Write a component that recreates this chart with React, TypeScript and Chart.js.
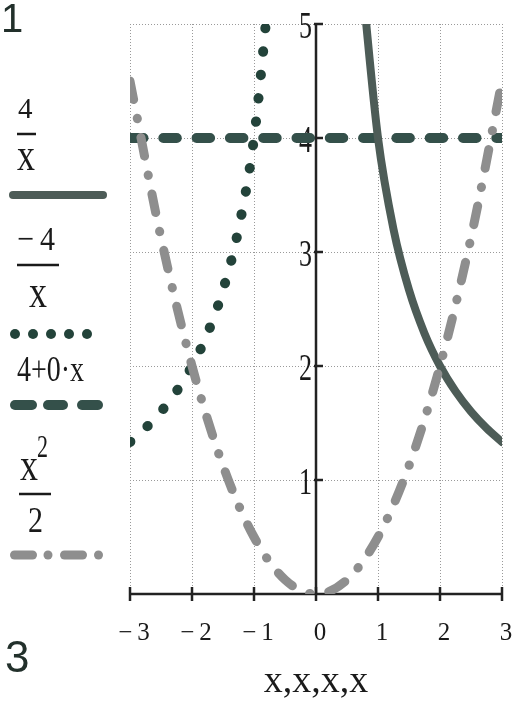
import React, { useEffect, useRef } from "react";
import { Chart, registerables } from "chart.js";

Chart.register(...registerables);

// ---- data ----
const xTicks = [-3, -2, -1, 0, 1, 2, 3];
const yTicks = [1, 2, 3, 4, 5];

// 4/x  (solid)
const posX = [0.75, 1, 1.25, 1.5, 1.75, 2, 2.25, 2.5, 2.75, 3];
const posY = [5.333, 4, 3.2, 2.667, 2.286, 2, 1.778, 1.6, 1.455, 1.333];

// -4/x (dotted)
const negX = [-3, -2.75, -2.5, -2.25, -2, -1.75, -1.5, -1.25, -1, -0.75];
const negY = [1.333, 1.455, 1.6, 1.778, 2, 2.286, 2.667, 3.2, 4, 5.333];

// 4+0·x (dashed)
const constX = [-3, 3];
const constY = [4, 4];

// x^2/2 (dash-dot)
const parX = [-3, -2.5, -2, -1.5, -1, -0.5, 0, 0.5, 1, 1.5, 2, 2.5, 3];
const parY = [4.5, 3.125, 2, 1.125, 0.5, 0.125, 0, 0.125, 0.5, 1.125, 2, 3.125, 4.5];

const xTitle = "x,x,x,x";

const C_SOLID = "#4d5c57";
const C_DOT = "#23433a";
const C_DASH = "#34504a";
const C_DASHDOT = "#8e8e8e";
const C_TEXT = "#1a1a1a";
const SERIF = '"Liberation Serif", "Times New Roman", serif';
const SANS = '"Liberation Sans", Arial, sans-serif';

const pts = (xs: number[], ys: number[]) => xs.map((x, i) => ({ x, y: ys[i] }));

function txt(
  ctx: CanvasRenderingContext2D,
  s: string,
  x: number,
  y: number,
  font: string,
  sy = 1,
  color = C_TEXT,
  align: CanvasTextAlign = "left",
  baseline: CanvasTextBaseline = "alphabetic"
) {
  ctx.save();
  ctx.font = font;
  ctx.fillStyle = color;
  ctx.textAlign = align;
  ctx.textBaseline = baseline;
  ctx.translate(x, y);
  ctx.scale(1, sy);
  ctx.fillText(s, 0, 0);
  ctx.restore();
}

function seg(ctx: CanvasRenderingContext2D, x1: number, y1: number, x2: number, y2: number) {
  ctx.beginPath();
  ctx.moveTo(x1, y1);
  ctx.lineTo(x2, y2);
  ctx.stroke();
}

const axesPlugin = {
  id: "mathcadAxes",
  beforeDatasetsDraw(chart: any) {
    const { ctx, chartArea: a } = chart;
    const xs = chart.scales.x;
    const ys = chart.scales.y;
    ctx.save();
    // dotted grid
    ctx.strokeStyle = "#9a9a9a";
    ctx.lineWidth = 1;
    ctx.setLineDash([1, 2]);
    for (const v of xTicks) {
      const px = Math.round(xs.getPixelForValue(v)) + 0.5;
      seg(ctx, px, a.top, px, a.bottom);
    }
    for (const v of yTicks) {
      const py = Math.round(ys.getPixelForValue(v)) + 0.5;
      seg(ctx, a.left, py, a.right, py);
    }
    ctx.setLineDash([]);
    // axes
    const x0 = xs.getPixelForValue(0);
    const y0 = ys.getPixelForValue(0);
    ctx.strokeStyle = "#222";
    ctx.lineWidth = 2.5;
    seg(ctx, a.left, y0, a.right, y0);
    for (const v of xTicks) {
      const px = xs.getPixelForValue(v);
      seg(ctx, px, y0 - 7, px, y0 + 7);
    }
    seg(ctx, x0, a.top, x0, a.bottom);
    for (const v of yTicks) {
      const py = ys.getPixelForValue(v);
      seg(ctx, x0 - 2, py, x0 + 7, py);
    }
    // y tick labels next to the axis at x = 0
    for (const v of yTicks) {
      const py = ys.getPixelForValue(v);
      txt(ctx, String(v), x0 - 4, py + 4, `26px ${SERIF}`, 1.45, C_TEXT, "right", "middle");
    }
    ctx.restore();
  },
  afterDraw(chart: any) {
    const ctx: CanvasRenderingContext2D = chart.ctx;
    ctx.save();
    // page marks
    txt(ctx, "1", 1, 32, `40px ${SANS}`, 1, "#22302b");
    txt(ctx, "3", 5, 672, `44px ${SANS}`, 1, "#22302b");

    // legend: 4/x
    txt(ctx, "4", 18, 118, `29px ${SERIF}`, 1);
    ctx.strokeStyle = C_TEXT;
    ctx.lineWidth = 2.5;
    seg(ctx, 17, 134, 36, 134);
    txt(ctx, "x", 17, 170, `36px ${SERIF}`, 1.3);
    ctx.lineCap = "round";
    ctx.strokeStyle = C_SOLID;
    ctx.lineWidth = 8;
    seg(ctx, 13, 195, 103, 195);

    // legend: -4/x
    txt(ctx, "\u2212\u20094", 17, 250, `30px ${SERIF}`, 1.15);
    ctx.lineCap = "butt";
    ctx.strokeStyle = C_TEXT;
    ctx.lineWidth = 2.5;
    seg(ctx, 17, 265, 59, 265);
    txt(ctx, "x", 29, 307, `36px ${SERIF}`, 1.3);
    ctx.fillStyle = C_DOT;
    for (const cx of [15, 33, 51, 69, 87]) {
      ctx.beginPath();
      ctx.arc(cx, 334, 5, 0, Math.PI * 2);
      ctx.fill();
    }

    // legend: 4+0·x
    txt(ctx, "4+0\u00B7x", 17, 381, `28px ${SERIF}`, 1.25);
    ctx.lineCap = "round";
    ctx.strokeStyle = C_DASH;
    ctx.lineWidth = 10;
    seg(ctx, 15, 405, 32, 405);
    seg(ctx, 48, 405, 63, 405);
    seg(ctx, 82, 405, 98, 405);

    // legend: x^2/2
    txt(ctx, "x", 20, 480, `36px ${SERIF}`, 1.3);
    txt(ctx, "2", 37, 457, `22px ${SERIF}`, 1.4);
    ctx.lineCap = "butt";
    ctx.strokeStyle = C_TEXT;
    ctx.lineWidth = 2.5;
    seg(ctx, 19, 494, 51, 494);
    txt(ctx, "2", 28, 532, `30px ${SERIF}`, 1.2);
    ctx.lineCap = "round";
    ctx.strokeStyle = C_DASHDOT;
    ctx.fillStyle = C_DASHDOT;
    ctx.lineWidth = 9;
    seg(ctx, 14.5, 555, 32.5, 555);
    seg(ctx, 64.5, 555, 82.5, 555);
    for (const cx of [48, 98.5]) {
      ctx.beginPath();
      ctx.arc(cx, 555, 4.5, 0, Math.PI * 2);
      ctx.fill();
    }
    ctx.restore();
  },
};

export default function App() {
  const ref = useRef<HTMLCanvasElement | null>(null);

  useEffect(() => {
    if (!ref.current) return;
    const common = {
      pointRadius: 0,
      pointHoverRadius: 0,
      fill: false,
      borderCapStyle: "round" as const,
      borderJoinStyle: "round" as const,
      cubicInterpolationMode: "monotone" as const,
    };
    const chart = new Chart(ref.current, {
      type: "line",
      data: {
        datasets: [
          {
            ...common,
            label: "4/x",
            data: pts(posX, posY),
            borderColor: C_SOLID,
            borderWidth: 8,
            clip: 0,
            order: 1,
          },
          {
            ...common,
            label: "-4/x",
            data: pts(negX, negY),
            borderColor: C_DOT,
            borderWidth: 10,
            borderDash: [0.5, 23],
            order: 2,
          },
          {
            ...common,
            label: "4+0·x",
            data: pts(constX, constY),
            borderColor: C_DASH,
            borderWidth: 10,
            borderDash: [13.5, 19.8],
            order: 3,
          },
          {
            ...common,
            label: "x^2/2",
            data: pts(parX, parY),
            borderColor: C_DASHDOT,
            borderWidth: 9,
            borderDash: [19, 19, 0.5, 19],
            order: 0,
          },
        ] as any,
      },
      options: {
        animation: false,
        responsive: false,
        events: [],
        layout: { padding: { left: 130, right: 13, top: 24, bottom: 0 } },
        plugins: {
          legend: { display: false },
          tooltip: { enabled: false },
        },
        scales: {
          x: {
            type: "linear",
            min: -3,
            max: 3,
            grid: { display: false, drawTicks: false },
            border: { display: false },
            ticks: {
              stepSize: 1,
              autoSkip: false,
              maxRotation: 0,
              padding: 24,
              labelOffset: 4,
              color: C_TEXT,
              font: { family: SERIF, size: 25 },
              callback: (v: any) => (Number(v) < 0 ? `\u2212\u2009${-Number(v)}` : String(v)),
            },
            title: {
              display: true,
              text: xTitle,
              color: C_TEXT,
              font: { family: SERIF, size: 38, lineHeight: 1 },
              padding: { top: 0, bottom: 1 },
            },
            afterFit: (scale: any) => {
              scale.height = 108;
              scale.paddingLeft = 0;
              scale.paddingRight = 0;
            },
          },
          y: {
            type: "linear",
            min: 0,
            max: 5,
            display: false,
          },
        },
      } as any,
      plugins: [axesPlugin],
    });
    return () => chart.destroy();
  }, []);

  return (
    <div style={{ position: "absolute", left: 0, top: 0, width: 515, height: 702, background: "#fff" }}>
      <canvas ref={ref} width={515} height={702} style={{ display: "block", width: 515, height: 702 }} />
    </div>
  );
}
